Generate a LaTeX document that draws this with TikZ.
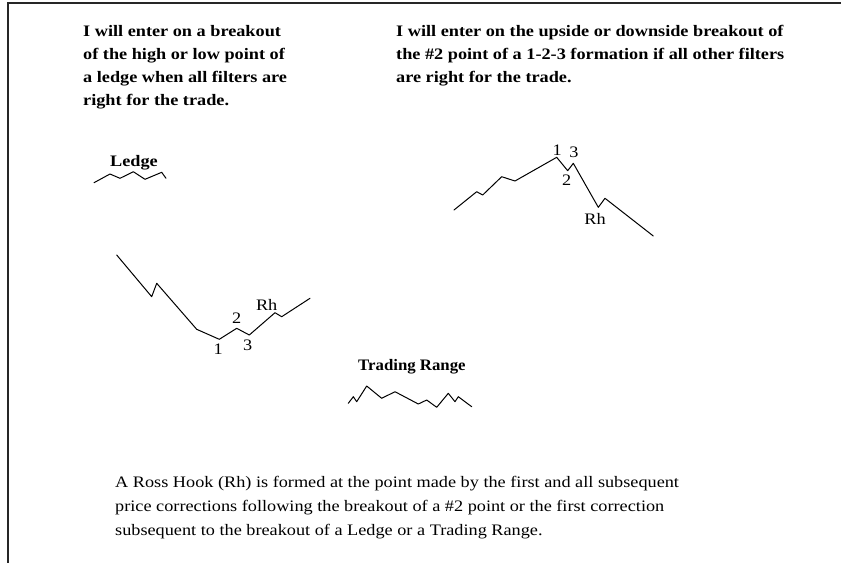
\documentclass[tikz,border=0pt]{standalone}
\usepackage{fontspec}
\setmainfont{Liberation Serif}
\newfontfamily\refont[FakeStretch=1.14]{Liberation Serif}
\newfontfamily\trfont[FakeStretch=1.05]{Liberation Serif}
\begin{document}
\begin{tikzpicture}[x=1pt,y=-1pt,
  txt/.style={inner sep=0pt,anchor=base west,font=\refont\bfseries\fontsize{16}{23}\selectfont},
  body/.style={inner sep=0pt,anchor=base west,font=\refont\fontsize{16}{24}\selectfont},
  lbl/.style={inner sep=0pt,anchor=center,font=\refont\fontsize{16}{18}\selectfont},
  ttl/.style={inner sep=0pt,anchor=base west,font=\refont\bfseries\fontsize{16}{18}\selectfont},
  chart/.style={line width=1pt,line join=round,line cap=round},
  frame/.style={line width=1.3pt,black!85}]
\useasboundingbox (0,0) rectangle (841,563);
\draw[frame] (841,3) -- (8,3) -- (8,563);
% top left text
\node[txt] (a1) at (83,36) {I will enter on a breakout};
\node[txt] (a2) at (83,59) {of the high or low point of};
\node[txt] (a3) at (83,82) {a ledge when all filters are};
\node[txt] (a4) at (83,105) {right for the trade.};
% top right text
\node[txt] (b1) at (396,36) {I will enter on the upside or downside breakout of};
\node[txt] (b2) at (396,59) {the \#2 point of a 1-2-3 formation if all other filters};
\node[txt] (b3) at (396,82) {are right for the trade.};
% ledge
\node[ttl] (ledge) at (110,166) {Ledge};
\draw[chart] (94,182.7) -- (110,174) -- (120,178.3) -- (133.3,171.7) -- (145,179.3) -- (161.7,172.3) -- (166,178.3);
% 1-2-3 top
\draw[chart] (454,210) -- (476.7,191.7) -- (482.7,195) -- (501.7,176.7) -- (515,181) -- (556.7,157.3) -- (567.7,170.7) -- (573.3,163.3) -- (598.3,207.3) -- (605,198.3) -- (653.3,236);
\node[lbl] (p1) at (557.3,150.5) {1};
\node[lbl] (p3) at (574,152.5) {3};
\node[lbl] (p2) at (566.7,180.5) {2};
\node[lbl] (rh1) at (595,219) {Rh};
% 1-2-3 bottom
\draw[chart] (116.7,255) -- (151.7,296.7) -- (156.7,283.3) -- (196.7,329.3) -- (219.3,339.3) -- (236.7,328.3) -- (249.3,335) -- (275,312.7) -- (281.7,316.7) -- (310,298.3);
\node[lbl] (q1) at (218.3,349) {1};
\node[lbl] (q2) at (236.7,318) {2};
\node[lbl] (q3) at (247.7,345.5) {3};
\node[lbl] (rh2) at (266.7,305) {Rh};
% trading range
\node[inner sep=0pt,anchor=base west,font=\trfont\bfseries\fontsize{16}{18}\selectfont] (tr) at (358,370) {Trading Range};
\draw[chart] (348.3,403.3) -- (353.3,396.7) -- (356.7,401.7) -- (366.7,386) -- (381.7,398.3) -- (395,391.7) -- (418.3,404) -- (426.7,400) -- (436.7,407.3) -- (448.3,393.3) -- (455,401.7) -- (458.3,396.7) -- (471.7,406.7);
% bottom text
\node[body] (c1) at (115,487) {A Ross Hook (Rh) is formed at the point made by the first and all subsequent};
\node[body] (c2) at (115,511) {price corrections following the breakout of a \#2 point or the first correction};
\node[body] (c3) at (115,535) {subsequent to the breakout of a Ledge or a Trading Range.};
\end{tikzpicture}
\end{document}
